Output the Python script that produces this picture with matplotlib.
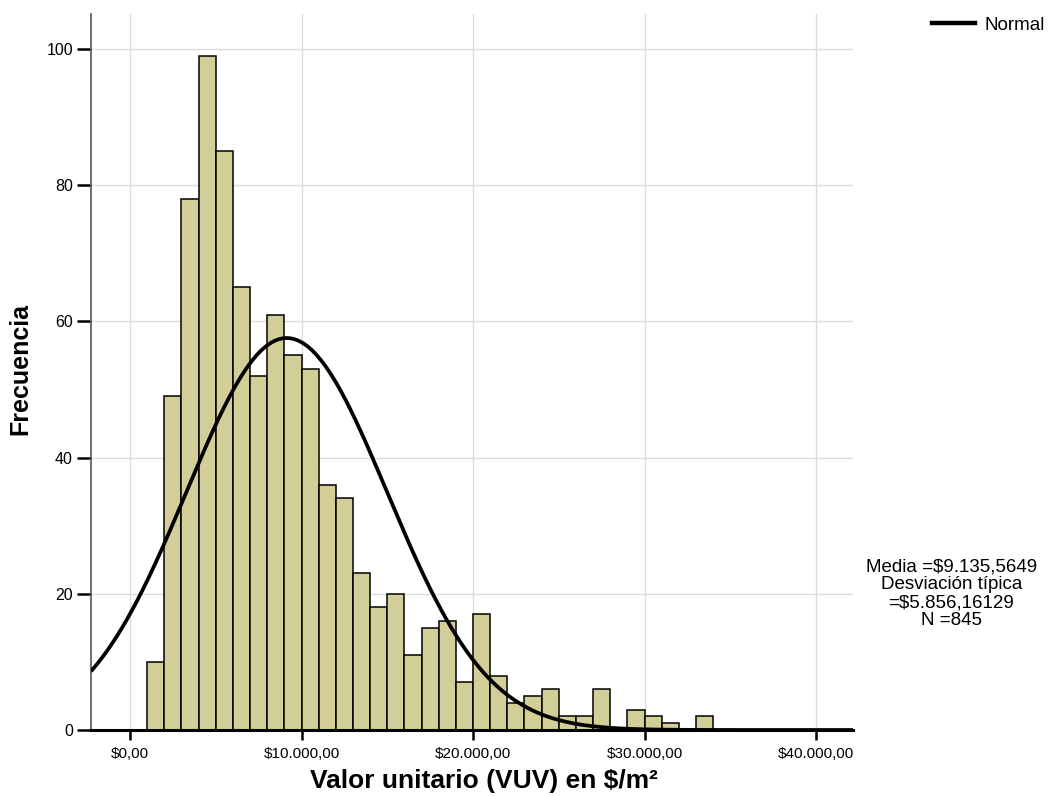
import numpy as np
import matplotlib
matplotlib.use("Agg")
import matplotlib.pyplot as plt
from matplotlib.lines import Line2D

plt.rcParams['font.family'] = ['Liberation Sans', 'DejaVu Sans']

# Histogram bins (width 1000) and frequencies
bin_left = [1000, 2000, 3000, 4000, 5000, 6000, 7000, 8000, 9000, 10000,
            11000, 12000, 13000, 14000, 15000, 16000, 17000, 18000, 19000, 20000,
            21000, 22000, 23000, 24000, 25000, 26000, 27000, 28000, 29000, 30000,
            31000, 32000, 33000]
counts = [10, 49, 78, 99, 85, 65, 52, 61, 55, 53,
          36, 34, 23, 18, 20, 11, 15, 16, 7, 17,
          8, 4, 5, 6, 2, 2, 6, 0, 3, 2,
          1, 0, 2]
bin_width = 1000

mean = 9135.5649
std = 5856.16129
n = 845

x_ticks = [0, 10000, 20000, 30000, 40000]
x_tick_labels = ["$0,00", "$10.000,00", "$20.000,00", "$30.000,00", "$40.000,00"]
y_ticks = [0, 20, 40, 60, 80, 100]

fig = plt.figure(figsize=(10.5, 7.96), dpi=100)
ax = fig.add_axes([0.0867, 0.0829, 0.7257, 0.8991])

xmin, xmax = -2274, 42157
ax.set_xlim(xmin, xmax)
ax.set_ylim(0, 105.1)

ax.set_axisbelow(True)
ax.grid(True, color='#dcdcdc', linewidth=1.0)

ax.bar(bin_left, counts, width=bin_width, align='edge',
       color='#d3ce97', edgecolor='black', linewidth=1.1, zorder=2)

xs = np.linspace(xmin, xmax, 600)
pdf = n * bin_width / (std * np.sqrt(2 * np.pi)) * np.exp(-0.5 * ((xs - mean) / std) ** 2)
ax.plot(xs, pdf, color='black', linewidth=2.7, zorder=3, solid_capstyle='butt')

ax.set_xticks(x_ticks)
ax.set_xticklabels(x_tick_labels, fontsize=11)
ax.set_yticks(y_ticks)
ax.set_yticklabels([str(v) for v in y_ticks], fontsize=11.5)
ax.tick_params(axis='x', direction='out', length=7, width=1.8, color='black', pad=5)
ax.tick_params(axis='y', direction='out', length=10, width=1.8, color='black', pad=3)

for side in ['top', 'right']:
    ax.spines[side].set_visible(False)
ax.spines['left'].set_color('#555555')
ax.spines['left'].set_linewidth(1.2)
ax.spines['bottom'].set_color('black')
ax.spines['bottom'].set_linewidth(2.2)

ax.set_xlabel("Valor unitario (VUV) en $/m²", fontsize=19, fontweight='bold')
ax.xaxis.set_label_coords(0.516, -0.055)
ax.set_ylabel("Frecuencia", fontsize=18, fontweight='bold')
ax.yaxis.set_label_coords(-0.077, 0.505)

handle = Line2D([0], [0], color='black', linewidth=3.2)
fig.legend([handle], ["Normal"], loc='center left', bbox_to_anchor=(0.8875, 0.968),
           frameon=False, fontsize=13.5, handlelength=2.3, handletextpad=0.5,
           borderpad=0, borderaxespad=0)

fig.text(0.906, 0.254, "Media =$9.135,5649\nDesviación típica\n=$5.856,16129\nN =845",
         ha='center', va='center', fontsize=13.5, linespacing=1.05)

fig.savefig("out.png", dpi=100)
